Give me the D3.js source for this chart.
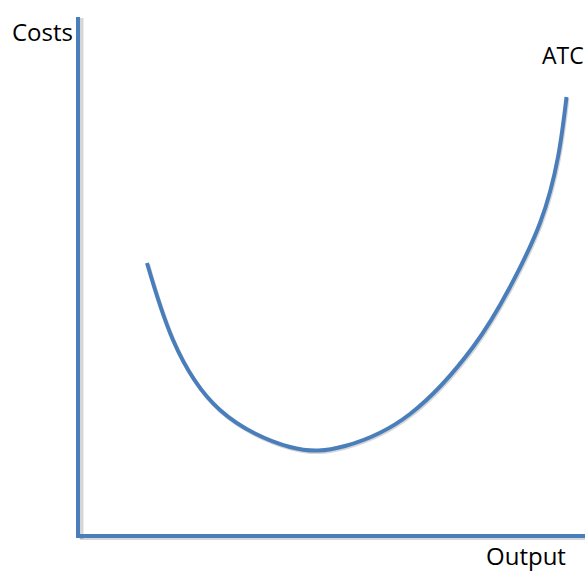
<!DOCTYPE html>
<html>
<head>
<meta charset="utf-8">
<script src="https://cdn.jsdelivr.net/npm/d3@7"></script>
<style>
html,body{margin:0;padding:0;background:#fff;}
svg{display:block;}
text{font-family:"Open Sans","Noto Sans",sans-serif;fill:#000;}
</style>
</head>
<body>
<svg id="chart" width="585" height="571"></svg>
<script>
// ATC curve data (output, cost)
const output = [13.4, 18.6, 28, 42, 53, 66, 78.6, 86, 92, 95.6, 97.3];
const cost   = [54.6, 39.2, 25.2, 17.8, 18, 24.4, 37.8, 49.8, 62.6, 75.8, 87.8];
const labels = {y: "Costs", x: "Output", curve: "ATC"};

const svg = d3.select("#chart");
const x = d3.scaleLinear().domain([0, 100]).range([80, 580]);
const y = d3.scaleLinear().domain([0, 100]).range([536, 36]);

const blue = "#4a7ebb";
const shadow = "rgba(0,0,0,0.16)";

// shadows
svg.append("line").attr("x1", x(0)+1.5).attr("x2", x(0)+1.5).attr("y1", 18).attr("y2", y(0)+3)
  .attr("stroke", shadow).attr("stroke-width", 4);
svg.append("line").attr("x1", x(0)).attr("x2", 585).attr("y1", y(0)+2).attr("y2", y(0)+2)
  .attr("stroke", shadow).attr("stroke-width", 4);

// axes
svg.append("line").attr("x1", x(0)-2).attr("x2", x(0)-2).attr("y1", 17).attr("y2", y(0)+2)
  .attr("stroke", blue).attr("stroke-width", 4);
svg.append("line").attr("x1", x(0)-4).attr("x2", 585).attr("y1", y(0)).attr("y2", y(0))
  .attr("stroke", blue).attr("stroke-width", 4);

const pts = output.map((o, i) => [o, cost[i]]);
const line = d3.line().x(d => x(d[0])).y(d => y(d[1])).curve(d3.curveNatural);

svg.append("path").datum(pts).attr("d", line).attr("fill", "none")
  .attr("stroke", shadow).attr("stroke-width", 4).attr("transform", "translate(1,1.5)");
svg.append("path").datum(pts).attr("d", line).attr("fill", "none")
  .attr("stroke", blue).attr("stroke-width", 4);

svg.append("text").attr("x", 12).attr("y", 41).attr("font-size", 24).text(labels.y);
svg.append("text").attr("x", 542).attr("y", 64).attr("font-size", 23).text(labels.curve);
svg.append("text").attr("x", 486).attr("y", 565).attr("font-size", 24).text(labels.x);
</script>
</body>
</html>
